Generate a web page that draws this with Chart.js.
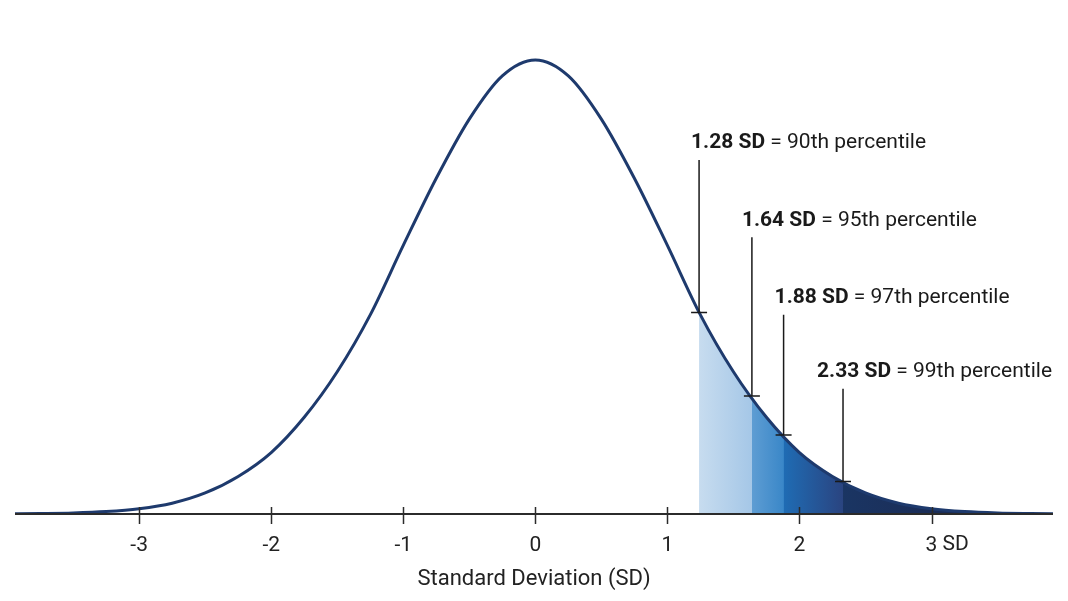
<!DOCTYPE html>
<html>
<head>
<meta charset="utf-8">
<script src="https://cdn.jsdelivr.net/npm/chart.js@4.4.1/dist/chart.umd.min.js"></script>
<style>
  html, body { margin: 0; padding: 0; background: #fff; }
  #wrap { width: 1068px; height: 601px; }
</style>
</head>
<body>
<div id="wrap"><canvas id="sdChart" width="1068" height="601"></canvas></div>
<script>
// ── Data ──
const sdX = [-4, -3.75, -3.5, -3.25, -3, -2.75, -2.5, -2.25, -2, -1.75, -1.5, -1.25, -1, -0.75, -0.5, -0.25,
             0, 0.25, 0.5, 0.75, 1, 1.25, 1.5, 1.75, 2, 2.25, 2.5, 2.75, 3, 3.25, 3.5, 3.75, 4];
const density = [0.0001, 0.0004, 0.0009, 0.0021, 0.0046, 0.0095, 0.0185, 0.033, 0.054, 0.085, 0.125, 0.175, 0.236, 0.295, 0.347, 0.385,
                 0.399, 0.385, 0.347, 0.295, 0.236, 0.175, 0.125, 0.085, 0.054, 0.033, 0.0185, 0.0095, 0.0046, 0.0021, 0.0009, 0.0004, 0.0001];

// where the markers sit on the picture, and what they say
const cutoffSD = [1.24, 1.64, 1.88, 2.33];
const cutoffDensity = [0.177, 0.1037, 0.0694, 0.0286];
const cutoffLabels = ['1.28 SD', '1.64 SD', '1.88 SD', '2.33 SD'];
const percentiles = ['90th', '95th', '97th', '99th'];
const labelLevels = [0.326, 0.258, 0.190, 0.125];   // label heights, in density units

const tickValues = [-3, -2, -1, 0, 1, 2, 3];
const axisTitle = 'Standard Deviation (SD)';

// layout: how far each label starts left of its marker line (px)
const labelShift = [8, 10, 9, 26];

// band colours (left → right gradient)
const bandColors = [
  ['#c7dcef', '#a5c7e7'],
  ['#5e9dd3', '#3a87c8'],
  ['#1f6cb4', '#2a4480'],
  ['#1a3563', '#1b2d57']
];

const FONT = "Roboto, 'Noto Sans', sans-serif";

// ── shaded bands: each one runs from its cutoff to the end of the curve,
//    later (darker) bands are drawn on top so there are no seams ──
const bandSets = cutoffSD.map((a, i) => {
  const pts = [{ x: a, y: cutoffDensity[i] }];
  sdX.forEach((x, k) => { if (x > a) pts.push({ x, y: density[k] }); });
  const b = i + 1 < cutoffSD.length ? cutoffSD[i + 1] : 3.0;
  return {
    data: pts,
    borderWidth: 0,
    pointRadius: 0,
    fill: 'origin',
    cubicInterpolationMode: 'monotone',
    backgroundColor: ctx => {
      const chart = ctx.chart;
      if (!chart.chartArea) return bandColors[i][0];
      const xs = chart.scales.x;
      const g = chart.ctx.createLinearGradient(xs.getPixelForValue(a), 0, xs.getPixelForValue(b), 0);
      g.addColorStop(0, bandColors[i][0]);
      g.addColorStop(1, bandColors[i][1]);
      return g;
    }
  };
});

// ── axis + annotations plugin ──
const sdPlugin = {
  id: 'sdPlugin',
  afterDatasetsDraw(chart) {
    const { ctx, chartArea } = chart;
    const xs = chart.scales.x, ys = chart.scales.y;
    const y0 = ys.getPixelForValue(0);

    ctx.save();
    // baseline axis
    ctx.strokeStyle = '#2b2b2b';
    ctx.lineWidth = 2;
    ctx.beginPath();
    ctx.moveTo(chartArea.left, y0);
    ctx.lineTo(chartArea.right, y0);
    ctx.stroke();

    // tick marks crossing axis
    ctx.lineWidth = 1.5;
    tickValues.forEach(v => {
      const px = Math.round(xs.getPixelForValue(v)) + 0.5;
      ctx.beginPath();
      ctx.moveTo(px, y0 - 7);
      ctx.lineTo(px, y0 + 10);
      ctx.stroke();
    });

    // "SD" after the 3
    ctx.fillStyle = '#222';
    ctx.font = `21px ${FONT}`;
    ctx.textBaseline = 'middle';
    ctx.textAlign = 'left';
    const w3 = ctx.measureText('3').width;
    ctx.fillText(' SD', xs.getPixelForValue(3) + w3 / 2, y0 + 31);

    // percentile annotations
    cutoffSD.forEach((sd, i) => {
      const px = xs.getPixelForValue(sd);
      const py = ys.getPixelForValue(cutoffDensity[i]);
      const ly = ys.getPixelForValue(labelLevels[i]);

      ctx.strokeStyle = '#1a1a1a';
      ctx.lineWidth = 1.5;
      ctx.beginPath();
      ctx.moveTo(px, ly + 17);
      ctx.lineTo(px, py);
      ctx.moveTo(px - 8, py);
      ctx.lineTo(px + 8, py);
      ctx.stroke();

      const bold = cutoffLabels[i];
      const rest = ` = ${percentiles[i]} percentile`;
      const tx = px - labelShift[i];
      ctx.fillStyle = '#1a1a1a';
      ctx.font = `bold 21px ${FONT}`;
      ctx.fillText(bold, tx, ly);
      const bw = ctx.measureText(bold).width;
      ctx.font = `21px ${FONT}`;
      ctx.fillText(rest, tx + bw, ly);
    });
    ctx.restore();
  }
};

new Chart(document.getElementById('sdChart'), {
  type: 'line',
  data: {
    datasets: [
      {
        data: sdX.map((x, k) => ({ x, y: density[k] })),
        borderColor: '#1e3a6d',
        borderWidth: 3,
        pointRadius: 0,
        fill: false,
        cubicInterpolationMode: 'monotone'
      },
      // darkest band first so it is drawn last among the bands (on top)
      ...bandSets.slice().reverse()
    ]
  },
  options: {
    responsive: false,
    animation: false,
    events: [],
    layout: { padding: { left: 15, right: 15, top: 36, bottom: 0 } },
    plugins: { legend: { display: false }, tooltip: { enabled: false } },
    scales: {
      x: {
        type: 'linear',
        min: -3.94,
        max: 3.92,
        afterFit: s => { s.height = 87; },
        afterBuildTicks: s => { s.ticks = tickValues.map(v => ({ value: v })); },
        grid: { display: false, drawTicks: false },
        border: { display: false },
        ticks: {
          padding: 19,
          color: '#222',
          font: { family: FONT, size: 21 },
          maxRotation: 0,
          callback: v => String(v)
        },
        title: {
          display: true,
          text: axisTitle,
          color: '#222',
          font: { family: FONT, size: 22 },
          padding: { top: 4, bottom: 8 }
        }
      },
      y: { display: false, min: 0, max: 0.42 }
    }
  },
  plugins: [sdPlugin]
});
</script>
</body>
</html>
